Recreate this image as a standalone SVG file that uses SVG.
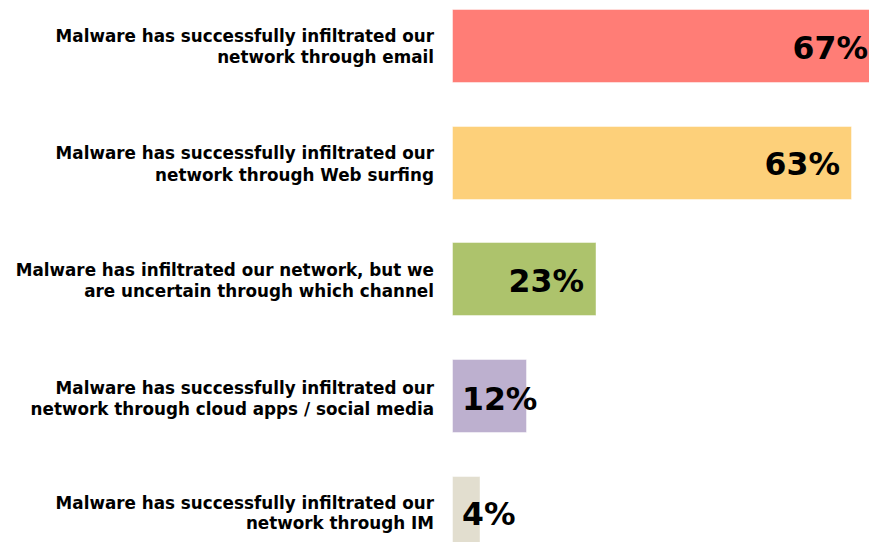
<svg xmlns="http://www.w3.org/2000/svg" width="869" height="542" viewBox="0 0 869 542">
<style>
.lbl{font-family:"DejaVu Sans",Verdana,sans-serif;font-weight:bold;font-size:17.6px;fill:#000;text-anchor:end}
.pct{font-family:"DejaVu Sans",Verdana,sans-serif;font-weight:bold;font-size:31.5px;fill:#000}
.bar{stroke:#ffffff;stroke-opacity:0.45;stroke-width:1}
</style>
<rect width="869" height="542" fill="#ffffff"/>
<g id="row1">
<rect class="bar" x="452.5" y="9.5" width="430" height="73" fill="#FF7D76"/>
<g transform="translate(434,0) scale(0.954,1)">
<text class="lbl" x="0" y="42">Malware has successfully infiltrated our</text>
<text class="lbl" x="0" y="63">network through email</text>
</g>
<text class="pct" x="868" y="59" text-anchor="end">67%</text>
</g>
<g id="row2">
<rect class="bar" x="452.5" y="126.5" width="399" height="73" fill="#FDD07A"/>
<g transform="translate(434,0) scale(0.954,1)">
<text class="lbl" x="0" y="159.3">Malware has successfully infiltrated our</text>
<text class="lbl" x="0" y="180.7">network through Web surfing</text>
</g>
<text class="pct" x="840" y="175" text-anchor="end">63%</text>
</g>
<g id="row3">
<rect class="bar" x="452.5" y="242.5" width="143.5" height="73" fill="#ADC36C"/>
<g transform="translate(434,0) scale(0.954,1)">
<text class="lbl" x="0" y="276.5">Malware has infiltrated our network, but we</text>
<text class="lbl" x="0" y="297.3">are uncertain through which channel</text>
</g>
<text class="pct" x="584" y="291.5" text-anchor="end">23%</text>
</g>
<g id="row4">
<rect class="bar" x="452.5" y="359.5" width="74" height="73" fill="#BDB0CF"/>
<g transform="translate(434,0) scale(0.954,1)">
<text class="lbl" x="0" y="394">Malware has successfully infiltrated our</text>
<text class="lbl" x="0" y="414.7">network through cloud apps / social media</text>
</g>
<text class="pct" x="462" y="410">12%</text>
</g>
<g id="row5">
<rect class="bar" x="452.5" y="476.5" width="27.5" height="73" fill="#E2DECF"/>
<g transform="translate(434,0) scale(0.954,1)">
<text class="lbl" x="0" y="508.7">Malware has successfully infiltrated our</text>
<text class="lbl" x="0" y="529.3">network through IM</text>
</g>
<text class="pct" x="462" y="525">4%</text>
</g>
<g id="connectors"/>
</svg>
